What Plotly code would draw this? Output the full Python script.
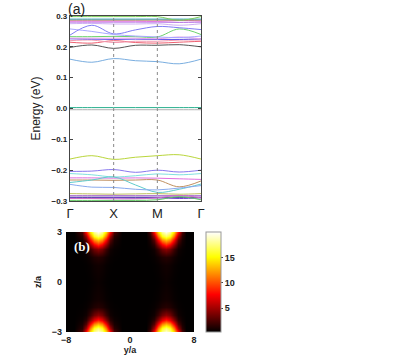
import plotly.graph_objects as go

# ---- panel (a): band structure along Γ-X-M-Γ ----
k_ticks = [0, 1, 2, 3]
k_labels = ["Γ", "X", "M", "Γ"]
k_pts = [0, 0.5, 1, 1.5, 2, 2.5, 3]

bands = [
    ([0.003, 0.003, 0.003, 0.003, 0.003, 0.003, 0.003], "#2bb08f"),
    ([-0.004, -0.004, -0.004, -0.004, -0.004, -0.004, -0.004], "#b0b0b0"),
    ([0.160, 0.150, 0.162, 0.155, 0.152, 0.145, 0.160], "#7aaee0"),
    ([0.198, 0.206, 0.195, 0.205, 0.205, 0.207, 0.200], "#555555"),
    ([0.215, 0.212, 0.220, 0.214, 0.212, 0.215, 0.218], "#ee6070"),
    ([0.220, 0.222, 0.214, 0.218, 0.218, 0.222, 0.222], "#f29ab0"),
    ([0.226, 0.225, 0.224, 0.225, 0.224, 0.224, 0.226], "#5a4fe8"),
    ([0.228, 0.228, 0.228, 0.228, 0.226, 0.232, 0.226], "#e6a0ea"),
    ([0.233, 0.233, 0.234, 0.233, 0.232, 0.258, 0.240], "#6cd36c"),
    ([0.238, 0.270, 0.242, 0.255, 0.266, 0.262, 0.256], "#7f7cf5"),
    ([0.258, 0.250, 0.240, 0.235, 0.232, 0.230, 0.235], "#a8a8ff"),
    ([0.275, 0.276, 0.274, 0.274, 0.275, 0.270, 0.275], "#d0aef4"),
    ([0.280, 0.280, 0.280, 0.280, 0.280, 0.279, 0.280], "#b87ae4"),
    ([0.283, 0.283, 0.283, 0.283, 0.282, 0.285, 0.283], "#e47ae4"),
    ([0.287, 0.287, 0.287, 0.287, 0.287, 0.287, 0.287], "#93653a"),
    ([0.290, 0.290, 0.290, 0.290, 0.290, 0.290, 0.290], "#38a8c0"),
    ([0.298, 0.298, 0.298, 0.298, 0.298, 0.286, 0.298], "#7ccd5a"),
    ([-0.164, -0.153, -0.165, -0.158, -0.153, -0.150, -0.164], "#bad63c"),
    ([-0.204, -0.203, -0.198, -0.207, -0.200, -0.206, -0.200], "#8878ee"),
    ([-0.211, -0.215, -0.222, -0.218, -0.212, -0.215, -0.211], "#80e0e0"),
    ([-0.225, -0.225, -0.226, -0.225, -0.226, -0.228, -0.230], "#e070e0"),
    ([-0.232, -0.232, -0.233, -0.232, -0.232, -0.254, -0.235], "#c09060"),
    ([-0.240, -0.232, -0.222, -0.248, -0.272, -0.262, -0.245], "#60cccc"),
    ([-0.246, -0.255, -0.256, -0.262, -0.264, -0.258, -0.250], "#88aaee"),
    ([-0.276, -0.277, -0.278, -0.277, -0.276, -0.278, -0.276], "#c0c060"),
    ([-0.283, -0.283, -0.283, -0.283, -0.283, -0.283, -0.283], "#9a50c8"),
    ([-0.288, -0.288, -0.288, -0.288, -0.288, -0.288, -0.288], "#2a2a88"),
    ([-0.290, -0.291, -0.290, -0.291, -0.290, -0.292, -0.290], "#7a40d8"),
    ([-0.292, -0.292, -0.293, -0.293, -0.290, -0.282, -0.290], "#d070c8"),
    ([-0.298, -0.298, -0.298, -0.298, -0.296, -0.286, -0.296], "#60c860"),
]

# ---- panel (b): intensity map ----
y_cols = [-8, -7, -6, -5.5, -5, -4.5, -4, -3.5, -3, -2.5, -2, -1, 0, 1, 2,
          2.5, 3, 3.5, 4, 4.5, 5, 5.5, 6, 6.5, 7, 8]
z_rows = [-3, -2.75, -2.5, -2.25, -2, -1.5, -1, 0, 1, 1.5, 2, 2.25, 2.5, 2.75, 3]

# blob cross-sections (d = -2 ... +2 from blob centre) at distance from edge
blob_edge = [2.5, 8, 14, 18, 19.5, 18, 14, 8, 2.5]
blob_025 = [1.5, 5, 11, 15.5, 17, 15.5, 11, 5, 1.5]
blob_050 = [1.0, 2.8, 7.5, 11.5, 13, 11.5, 7.5, 2.8, 1.0]
blob_075 = [0.7, 1.5, 4.2, 7, 8.5, 7, 4.2, 1.5, 0.7]
blob_100 = [0.5, 0.8, 2.0, 3.6, 4.4, 3.6, 2.0, 0.8, 0.5]
blob_150 = [0.4, 0.5, 0.8, 1.2, 1.4, 1.2, 0.8, 0.5, 0.4]
blob_200 = [0.35, 0.4, 0.5, 0.7, 0.8, 0.7, 0.5, 0.4, 0.35]
blob_300 = [0.35, 0.35, 0.4, 0.5, 0.6, 0.5, 0.4, 0.35, 0.35]
bg = 0.35

row_profiles = [blob_edge, blob_025, blob_050, blob_075, blob_100, blob_150,
                blob_200, blob_300, blob_200, blob_150, blob_100, blob_075,
                blob_050, blob_025, blob_edge]
intensity = [[bg, bg] + p + [bg] * 4 + p + [bg, bg] for p in row_profiles]

W, H = 411, 363


def px(x):
    return x / W


def py(y):
    return 1 - y / H


fig = go.Figure()

for vals, col in bands:
    fig.add_trace(go.Scatter(
        x=k_pts, y=vals, mode="lines",
        line=dict(color=col, width=1, shape="spline", smoothing=1),
        hoverinfo="skip", showlegend=False, xaxis="x", yaxis="y"))

fig.add_trace(go.Heatmap(
    x=y_cols, y=z_rows, z=intensity, zsmooth="best",
    zmin=0.3, zmax=20,
    colorscale=[[0, "#000000"], [0.375, "#ff0000"], [0.75, "#ffff00"], [1, "#ffffff"]],
    xaxis="x2", yaxis="y2",
    colorbar=dict(
        x=px(206), xanchor="left", y=py(232), yanchor="top",
        len=100 / H, lenmode="fraction", thickness=15, xpad=0, ypad=0,
        outlinewidth=1, outlinecolor="#999999",
        tickvals=[5, 10, 15], ticks="outside", ticklen=2, tickcolor="#444",
        tickfont=dict(family="Liberation Sans", size=9, color="#222", weight="bold"),
    ),
))

for kx in k_ticks[1:3]:
    fig.add_shape(type="line", xref="x", yref="y domain", x0=kx, x1=kx, y0=0, y1=1,
                  line=dict(color="#888888", width=1, dash="dot"))

axfont = dict(family="Liberation Sans", color="#222")
fig.update_layout(
    template="none",
    width=W, height=H, margin=dict(l=0, r=0, t=0, b=0),
    paper_bgcolor="white", plot_bgcolor="white", showlegend=False,
    xaxis=dict(domain=[px(70), px(201)], range=[0, 3], tickvals=k_ticks,
               ticktext=k_labels, ticks="", showgrid=False, zeroline=False,
               showline=True, mirror=True, linecolor="#444", linewidth=1.2,
               automargin=False, ticklabelstandoff=0,
               tickfont=dict(size=13, **axfont), anchor="y"),
    yaxis=dict(domain=[py(201), py(16)], range=[-0.3, 0.3], dtick=0.1,
               tickformat=".1f", ticks="inside", ticklen=3, tickcolor="#444",
               showgrid=False, zeroline=False, showline=True, mirror="ticks",
               linecolor="#444", linewidth=1.2, automargin=False,
               tickfont=dict(size=8, weight="bold", **axfont),
               title=dict(text="Energy (eV)", font=dict(size=12, **axfont), standoff=8),
               anchor="x"),
    xaxis2=dict(domain=[px(66), px(194)], range=[-8, 8], tickvals=[-8, 0, 8],
                ticks="", showgrid=False, zeroline=False, showline=False,
                automargin=False, ticklabelstandoff=1,
                tickfont=dict(size=9, weight="bold", **axfont),
                title=dict(text="y/a", font=dict(size=9, weight="bold", **axfont), standoff=1),
                anchor="y2"),
    yaxis2=dict(domain=[py(332), py(232)], range=[-3, 3], tickvals=[-3, 0, 3],
                ticks="", showgrid=False, zeroline=False, showline=False,
                automargin=False, ticklabelstandoff=3,
                tickfont=dict(size=9, weight="bold", **axfont),
                title=dict(text="z/a", font=dict(size=9, weight="bold", **axfont), standoff=8),
                anchor="x2"),
    annotations=[
        dict(text="(a)", xref="paper", yref="paper", x=px(67), y=1,
             xanchor="left", yanchor="top", showarrow=False, borderpad=0,
             font=dict(size=14, **axfont)),
        dict(text="(b)", xref="x2 domain", yref="y2 domain", x=0.05, y=0.95,
             xanchor="left", yanchor="top", showarrow=False,
             font=dict(family="Liberation Serif", size=13, color="white", weight="bold")),
    ],
)

# drop the browser's default 8 px body margin so the figure sits at the page corner
fig.write_html("out.html", config={"displayModeBar": False},
               post_script="document.body.style.margin = '0';")
